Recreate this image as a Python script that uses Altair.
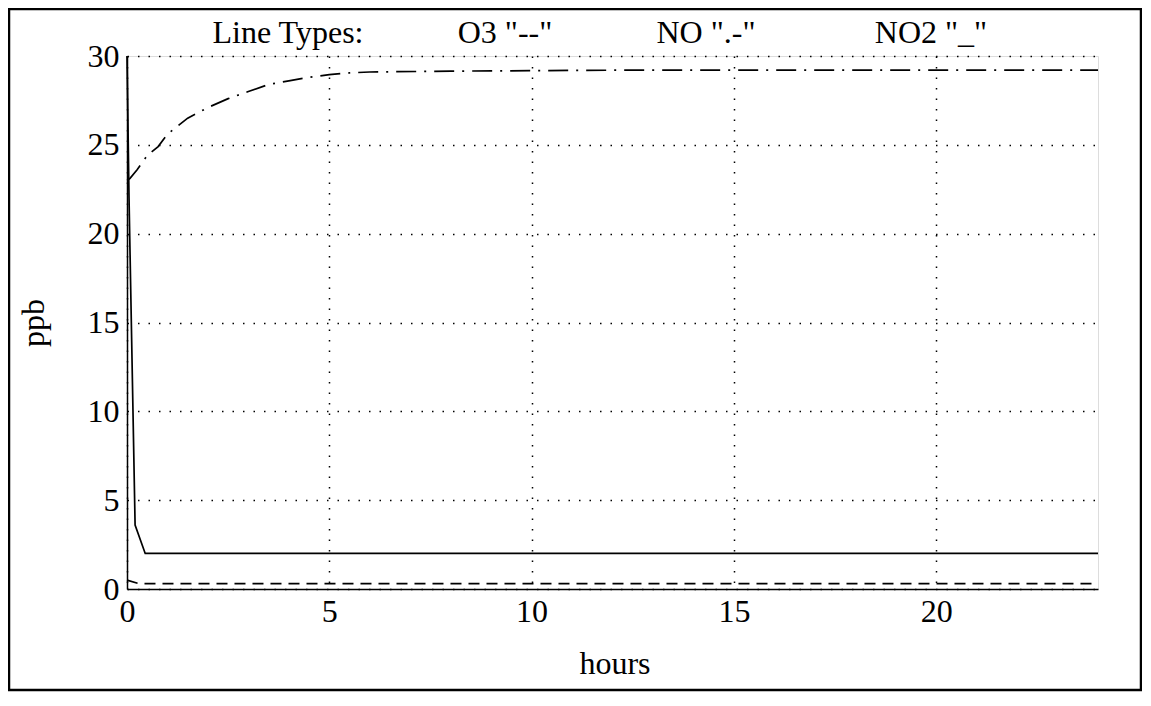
import altair as alt
import pandas as pd

# ---- data ----
no2_t = [0, 0.05, 0.2, 0.45, 24]
no2_v = [30.0, 22.0, 3.6, 2.0, 2.0]

no_t = [0, 0.07, 0.25, 0.5, 0.77, 1.0, 1.5, 2.0, 2.5, 3.0, 3.5, 4.0, 4.5, 5.0, 5.5, 6.0, 8.0, 12.0, 24.0]
no_v = [23.0, 23.1, 23.6, 24.4, 24.9, 25.6, 26.5, 27.1, 27.6, 28.0, 28.4, 28.6, 28.8, 28.95, 29.05, 29.1, 29.15, 29.2, 29.2]

o3_t = [0, 0.3, 24]
o3_v = [0.5, 0.3, 0.3]

x_ticks = [0, 5, 10, 15, 20]
y_ticks = [0, 5, 10, 15, 20, 25, 30]
header_texts = ["Line Types:", 'O3 "--"', 'NO ".-"', 'NO2 "_"']

FONT = "Liberation Serif"
FS = 32
W, H = 971, 533

xs = alt.Scale(domain=[0, 24], nice=False)
ys = alt.Scale(domain=[0, 30], nice=False)

x_axis = alt.Axis(values=x_ticks, title="hours", grid=True, ticks=False, labelPadding=7,
                  labelFontSize=FS, labelFont=FONT, labelColor="black",
                  titleFont=FONT, titleFontSize=FS, titleFontWeight="normal", titleColor="black",
                  titleBaseline="alphabetic", titleY=84, titleX=W / 2 + 2,
                  domainColor="black", domainWidth=1.5,
                  gridColor="black", gridDash=[1.5, 9], gridWidth=1.5, gridOpacity=1,
                  labelFlush=False, labelOverlap=False)
y_axis = alt.Axis(values=y_ticks, title="ppb", grid=True, ticks=False, labelPadding=8,
                  labelFontSize=FS, labelFont=FONT, labelColor="black",
                  titleFont=FONT, titleFontSize=FS, titleFontWeight="normal", titleColor="black",
                  titleX=-94, titleY=H / 2, titleAngle=270, titleBaseline="middle", titleAlign="center",
                  domainColor="black", domainWidth=1.5,
                  gridColor="black", gridDash=[1.5, 9], gridWidth=1.5, gridOpacity=1,
                  labelFlush=False, labelOverlap=False)

no2_df = pd.DataFrame({"t": no2_t, "v": no2_v})
no_df = pd.DataFrame({"t": no_t, "v": no_v})
o3_df = pd.DataFrame({"t": o3_t, "v": o3_v})

base_no2 = alt.Chart(no2_df).mark_line(color="black", strokeWidth=1.7).encode(
    x=alt.X("t:Q", scale=xs, axis=x_axis),
    y=alt.Y("v:Q", scale=ys, axis=y_axis),
)
line_no = alt.Chart(no_df).mark_line(color="black", strokeWidth=1.7, strokeDash=[20, 8, 2, 8]).encode(
    x=alt.X("t:Q", scale=xs), y=alt.Y("v:Q", scale=ys)
)
line_o3 = alt.Chart(o3_df).mark_line(color="black", strokeWidth=1.7, strokeDash=[11, 7]).encode(
    x=alt.X("t:Q", scale=xs), y=alt.Y("v:Q", scale=ys)
)

header_x = [161, 378, 579, 804]
header_layers = []
for txt, hx in zip(header_texts, header_x):
    header_layers.append(
        alt.Chart(pd.DataFrame({"label": [txt]})).mark_text(
            font=FONT, fontSize=FS, color="black", align="center", baseline="alphabetic"
        ).encode(text="label:N", x=alt.value(hx), y=alt.value(-13))
    )

frame = alt.Chart(pd.DataFrame({"k": [0]})).mark_rect(
    fillOpacity=0, stroke="black", strokeWidth=2.5
).encode(x=alt.value(-118), x2=alt.value(1014), y=alt.value(-47), y2=alt.value(634))

chart = alt.layer(base_no2, line_no, line_o3, frame, *header_layers).properties(
    width=W, height=H,
    autosize=alt.AutoSizeParams(type="none"),
    padding={"left": 119, "top": 48, "right": 44, "bottom": 103},
).configure_view(stroke="black", strokeWidth=1.5).configure(background="white")

chart.save("out.html", embed_options={"renderer": "svg", "actions": False})
